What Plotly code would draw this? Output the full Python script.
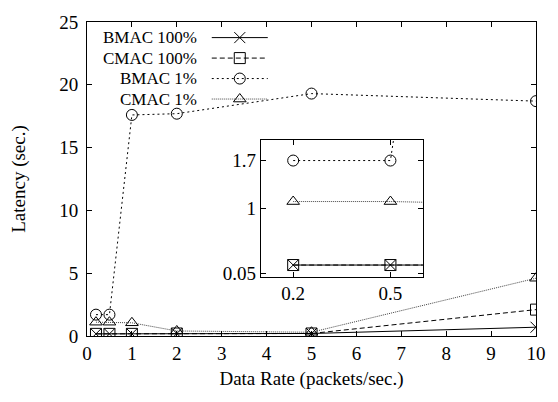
import plotly.graph_objects as go

rates = [0.2, 0.5, 1, 2, 5, 10]
bmac_100 = [0.17, 0.17, 0.17, 0.2, 0.2, 0.7]
cmac_100 = [0.17, 0.17, 0.17, 0.2, 0.2, 2.1]
bmac_1 = [1.7, 1.7, 17.6, 17.7, 19.3, 18.7]
cmac_1 = [1.1, 1.1, 1.05, 0.4, 0.3, 4.6]

series_names = ["BMAC 100%", "CMAC 100%", "BMAC 1%", "CMAC 1%"]
series_values = [bmac_100, cmac_100, bmac_1, cmac_1]

# styling (gnuplot-like)
symbols = ["x-thin-open", "square-open", "circle-open", "triangle-up-open"]
dashes = ["solid", "5px,3px", "2px,3px", "1px,1px"]
colors = ["black", "black", "black", "#444"]

main_ticks = [0, 1, 2, 3, 4, 5, 6, 7, 8, 9, 10]
main_yticks = [0, 5, 10, 15, 20, 25]
inset_xticks = [0.2, 0.5]
inset_yticks = [0.05, 1, 1.7]
inset_ylabels = ["0.05", "1", "1.7"]

FONT = "Liberation Serif"
FS = 19
KEY_FS = 17
PLOT_W, PLOT_H = 457, 322  # plot area in px (for the key overlay axis)

# key layout (in plot-area pixels, from top-left)
KEY_TEXT_RIGHT = 113
KEY_LINE = (127, 184)
KEY_ROW0, KEY_ROW_STEP = 16, 21

fig = go.Figure()

def style(i):
    return dict(
        line=dict(color=colors[i], width=1, dash=dashes[i]),
        marker=dict(symbol=symbols[i], size=11, color="black",
                    line=dict(color="black", width=1)),
    )

for i, (name, ys) in enumerate(zip(series_names, series_values)):
    fig.add_trace(go.Scatter(x=rates, y=ys, name=name, mode="lines+markers",
                             showlegend=False, **style(i)))
for i, (name, ys) in enumerate(zip(series_names, series_values)):
    fig.add_trace(go.Scatter(x=rates, y=ys, name=name, mode="lines+markers",
                             showlegend=False, xaxis="x2", yaxis="y2", **style(i)))

# gnuplot-style key: right-aligned text followed by line sample with centered point
for i, name in enumerate(series_names):
    yk = KEY_ROW0 + i * KEY_ROW_STEP
    s = style(i)
    fig.add_trace(go.Scatter(x=list(KEY_LINE), y=[yk, yk], mode="lines",
                             line=s["line"], xaxis="x3", yaxis="y3",
                             showlegend=False, hoverinfo="skip"))
    fig.add_trace(go.Scatter(x=[sum(KEY_LINE) / 2], y=[yk], mode="markers",
                             marker=s["marker"], xaxis="x3", yaxis="y3",
                             showlegend=False, hoverinfo="skip"))
    fig.add_annotation(x=KEY_TEXT_RIGHT, y=yk, xref="x3", yref="y3", text=name,
                       showarrow=False, xanchor="right", yanchor="middle",
                       borderpad=0,
                       font=dict(family=FONT, size=KEY_FS, color="black"))

axis_common = dict(showgrid=False, zeroline=False, showline=True, linecolor="black",
                   linewidth=1, mirror="ticks", ticks="inside", ticklen=5,
                   tickcolor="black", tickfont=dict(family=FONT, size=FS, color="black"))

fig.update_layout(
    width=558, height=402,
    margin=dict(l=87, r=14, t=14, b=66),
    plot_bgcolor="white", paper_bgcolor="white",
    font=dict(family=FONT, size=FS, color="black"),
    xaxis=dict(range=[0, 10], tickvals=main_ticks,
               title=dict(text="Data Rate (packets/sec.)", standoff=8,
                          font=dict(family=FONT, size=FS)), **axis_common),
    yaxis=dict(range=[0, 25], tickvals=main_yticks, ticklabelstandoff=4,
               title=dict(text="Latency (sec.)", standoff=28,
                          font=dict(family=FONT, size=FS)), **axis_common),
    xaxis2=dict(domain=[0.387, 0.748], anchor="y2", range=[0.1, 0.6],
                tickvals=inset_xticks, ticktext=["0.2", "0.5"], **axis_common),
    yaxis2=dict(domain=[0.189, 0.624], anchor="x2", range=[0, 2],
                tickvals=inset_yticks, ticktext=inset_ylabels, **axis_common),
    xaxis3=dict(overlaying="x", anchor="y3", range=[0, PLOT_W], visible=False,
                fixedrange=True),
    yaxis3=dict(overlaying="y", anchor="x3", range=[PLOT_H, 0], visible=False,
                fixedrange=True),
    showlegend=False,
)

fig.write_html("out.html")
